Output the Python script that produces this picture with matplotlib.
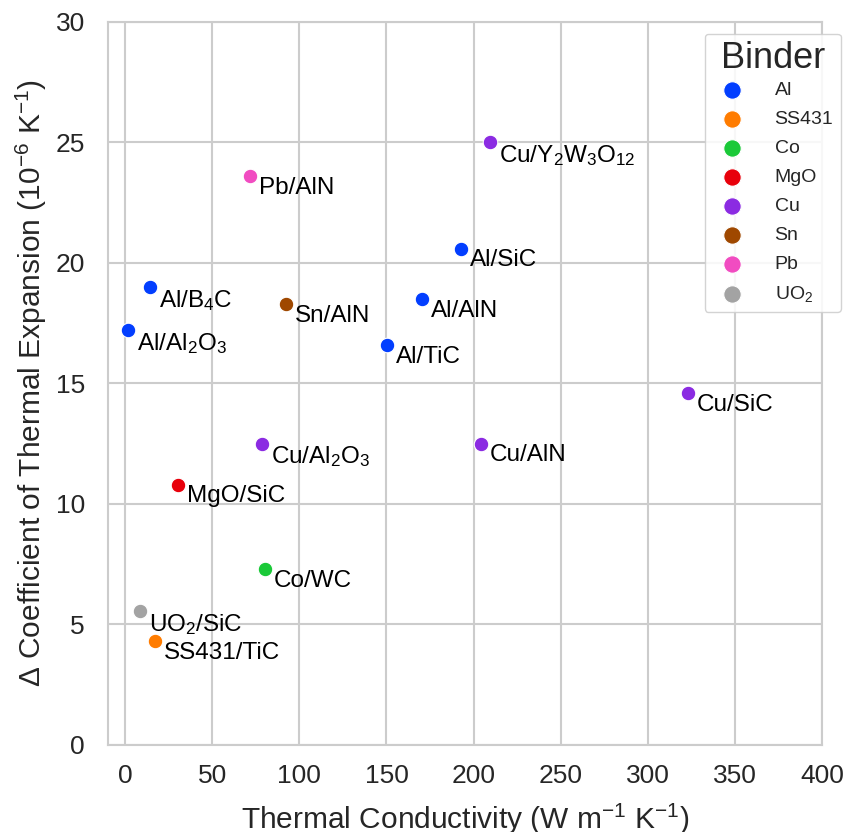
import numpy as np
import matplotlib
matplotlib.use("Agg")
import matplotlib.pyplot as plt
import seaborn as sns

# composite data: thermal conductivity vs CTE mismatch
labels = [r"Al/Al$_2$O$_3$", r"Al/B$_4$C", "Al/TiC", "Al/AlN", "Al/SiC",
          "SS431/TiC", "Co/WC", "MgO/SiC",
          r"Cu/Y$_2$W$_3$O$_{12}$", "Cu/SiC", "Cu/AlN", r"Cu/Al$_2$O$_3$",
          "Sn/AlN", "Pb/AlN", r"UO$_2$/SiC"]
conductivity = [1.7, 14.3, 150.4, 170.4, 192.8,
                17.2, 80.3, 30.4,
                209.5, 323.0, 204.3, 78.6,
                92.4, 71.7, 8.6]
delta_cte = [17.2, 19.0, 16.6, 18.5, 20.6,
             4.3, 7.3, 10.8,
             25.0, 14.6, 12.5, 12.5,
             18.3, 23.6, 5.55]
binder = ["Al", "Al", "Al", "Al", "Al",
          "SS431", "Co", "MgO",
          "Cu", "Cu", "Cu", "Cu",
          "Sn", "Pb", "UO2"]
binder_order = ["Al", "SS431", "Co", "MgO", "Cu", "Sn", "Pb", "UO2"]
binder_names = ["Al", "SS431", "Co", "MgO", "Cu", "Sn", "Pb", r"UO$_2$"]

sns.set_style("whitegrid")
plt.rcParams["font.family"] = ["Liberation Sans", "DejaVu Sans"]
plt.rcParams["mathtext.default"] = "regular"
plt.rcParams["axes.edgecolor"] = "#cccccc"
plt.rcParams["grid.color"] = "#cccccc"
plt.rcParams["grid.linewidth"] = 1.5
plt.rcParams["axes.linewidth"] = 1.5

palette = sns.color_palette("bright", len(binder_order))
palette[-1] = "#a3a3a3"
colors = dict(zip(binder_order, palette))

fig = plt.figure(figsize=(8.49, 8.32), dpi=100)
ax = fig.add_axes([0.127, 0.1046, 0.841, 0.869])

x = np.array(conductivity)
y = np.array(delta_cte)
b = np.array(binder)
for key, name in zip(binder_order, binder_names):
    m = b == key
    ax.scatter(x[m], y[m], s=110, color=colors[key], edgecolor="white",
               linewidth=0.8, label=name, zorder=3)

for lab, xi, yi in zip(labels, conductivity, delta_cte):
    ax.annotate(lab, (xi, yi), xytext=(6.5, -0.5), textcoords="offset points",
                ha="left", va="top", fontsize=17.5, color="black", zorder=4)

ax.set_xlim(-10, 400)
ax.set_ylim(0, 30)
ax.set_xticks(np.arange(0, 401, 50))
ax.set_yticks(np.arange(0, 31, 5))
ax.tick_params(labelsize=19, colors="#262626")
ax.tick_params(axis="y", pad=13)
ax.tick_params(axis="x", pad=10)
ax.set_xlabel(r"Thermal Conductivity (W m$^{-1}$ K$^{-1}$)", fontsize=21.5,
              color="#262626", labelpad=10)
ax.set_ylabel(r"$\Delta$ Coefficient of Thermal Expansion (10$^{-6}$ K$^{-1}$)",
              fontsize=21.5, color="#262626", labelpad=5)

leg = ax.legend(title="Binder", loc="upper right", bbox_to_anchor=(1.027, 0.984),
                borderaxespad=0, fontsize=14, title_fontsize=26,
                labelspacing=0.58, handletextpad=1.2, frameon=True,
                edgecolor="#cccccc", framealpha=0.85, markerscale=1.2)
leg._legend_box.sep = 4
for t in leg.get_texts():
    t.set_color("#262626")
leg.get_title().set_color("#262626")

fig.savefig("out.png", dpi=100)
